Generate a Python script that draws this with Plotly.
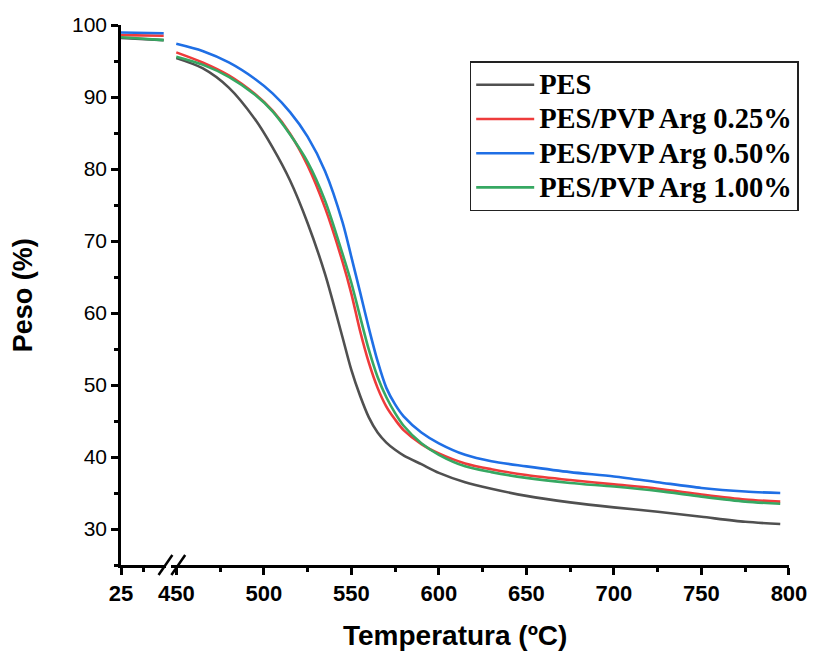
import plotly.graph_objects as go

# ---- data ----
temp_low = [25, 45, 72]
pes_low = [98.2, 98.05, 97.9]
arg025_low = [98.6, 98.55, 98.5]
arg050_low = [98.95, 98.9, 98.85]
arg100_low = [98.3, 98.1, 97.9]

temp_high = [450, 465, 480, 495, 505, 515, 525, 535, 545, 550, 555, 560, 565, 570,
             575, 580, 590, 600, 615, 630, 650, 675, 700, 725, 750, 775, 795]
pes_high = [95.4, 94.0, 91.3, 86.9, 83.0, 78.4, 72.5, 65.4, 56.6, 52.1, 48.5, 45.5, 43.4, 42.0,
            41.0, 40.2, 39.0, 37.8, 36.5, 35.6, 34.6, 33.7, 33.0, 32.4, 31.7, 31.0, 30.7]
arg025_high = [96.2, 94.8, 93.0, 90.4, 88.1, 84.9, 80.5, 74.6, 67.1, 62.7, 57.5, 53.1, 49.6, 47.0,
               45.2, 43.7, 41.8, 40.5, 39.1, 38.3, 37.5, 36.8, 36.2, 35.6, 34.8, 34.1, 33.8]
arg050_high = [97.4, 96.4, 94.8, 92.5, 90.5, 87.9, 84.5, 79.7, 72.6, 67.8, 62.9, 57.9, 53.3, 49.6,
               47.3, 45.6, 43.4, 41.9, 40.3, 39.4, 38.7, 37.9, 37.3, 36.5, 35.7, 35.2, 35.0]
arg100_high = [95.6, 94.5, 92.8, 90.3, 88.0, 84.8, 81.0, 75.6, 68.2, 64.2, 59.5, 54.9, 51.1, 48.3,
               46.1, 44.3, 41.9, 40.3, 38.7, 37.9, 37.1, 36.4, 35.9, 35.3, 34.5, 33.8, 33.5]

series_names = ["PES", "PES/PVP Arg 0.25%", "PES/PVP Arg 0.50%", "PES/PVP Arg 1.00%"]
series_low = [pes_low, arg025_low, arg050_low, arg100_low]
series_high = [pes_high, arg025_high, arg050_high, arg100_high]
colors = ["#505050", "#EE3B3B", "#1F6FE5", "#36A862"]

y_ticks = [30, 40, 50, 60, 70, 80, 90, 100]
y_minor = [25, 35, 45, 55, 65, 75, 85, 95]
x_low_ticks = [25]
x_low_minor = [50]
x_high_ticks = [450, 500, 550, 600, 650, 700, 750, 800]
x_high_minor = [475, 525, 575, 625, 675, 725, 775]

fig = go.Figure()
for name, lo, hi, c in zip(series_names, series_low, series_high, colors):
    fig.add_trace(go.Scatter(x=temp_low, y=lo, mode="lines", line=dict(color=c, width=2.6),
                             xaxis="x", yaxis="y", legendgroup=name, showlegend=False,
                             hoverinfo="skip"))
    fig.add_trace(go.Scatter(x=temp_high, y=hi, mode="lines",
                             name='<span style="font-size:28.5px">' + name + '</span>',
                             line=dict(color=c, width=2.6, shape="spline", smoothing=0.8),
                             xaxis="x2", yaxis="y", legendgroup=name))

minor_style = dict(ticklen=4, tickwidth=2.5, tickcolor="black", ticks="outside")
axis_common = dict(showline=True, linecolor="black", linewidth=2.5, ticks="outside",
                   tickwidth=2.5, ticklen=7, tickcolor="black", showgrid=False, zeroline=False,
                   tickfont=dict(family="Liberation Sans", size=22, color="black", weight="bold"))

fig.update_layout(
    width=819, height=657,
    margin=dict(l=121, r=22, t=25, b=92),
    paper_bgcolor="white", plot_bgcolor="white",
    xaxis=dict(domain=[0, 0.068], range=[25, 75], tickvals=x_low_ticks, anchor="y",
               minor=dict(tickvals=x_low_minor, **minor_style), **axis_common),
    xaxis2=dict(domain=[0.0754, 1], range=[447.2, 800], tickvals=x_high_ticks, anchor="y",
                minor=dict(tickvals=x_high_minor, **minor_style), **axis_common),
    yaxis=dict(range=[25, 100], tickvals=y_ticks, anchor="x", showline=True, linecolor="black",
               linewidth=2.5, ticks="outside", tickwidth=2.5, ticklen=7, tickcolor="black",
               showgrid=False, zeroline=False,
               minor=dict(tickvals=y_minor, **minor_style),
               tickfont=dict(family="Liberation Sans", size=21, color="black")),
    legend=dict(x=0.522, y=0.933, xanchor="left", yanchor="top", bgcolor="white",
                bordercolor="#222", borderwidth=1.5,
                font=dict(family="Liberation Serif", size=24, color="black", weight="bold"),
                tracegroupgap=0, itemwidth=58),
    showlegend=True,
)

fig.add_annotation(text="Temperatura (ºC)", xref="paper", yref="paper", x=0.5, y=-0.13,
                   xanchor="center", yanchor="middle", showarrow=False,
                   font=dict(family="Liberation Sans", size=28, color="black", weight="bold"))
fig.add_annotation(text="Peso (%)", xref="paper", yref="paper", x=-0.1464, y=0.5,
                   xanchor="center", yanchor="middle", showarrow=False, textangle=-90,
                   font=dict(family="Liberation Sans", size=27, color="black", weight="bold"))

# axis-break marks
for x0, x1 in [(0.0562, 0.0769), (0.0754, 0.0961)]:
    fig.add_shape(type="line", xref="paper", yref="paper", x0=x0, y0=-0.0185, x1=x1, y1=0.0185,
                  line=dict(color="black", width=2.5))

fig.write_html("out.html")
